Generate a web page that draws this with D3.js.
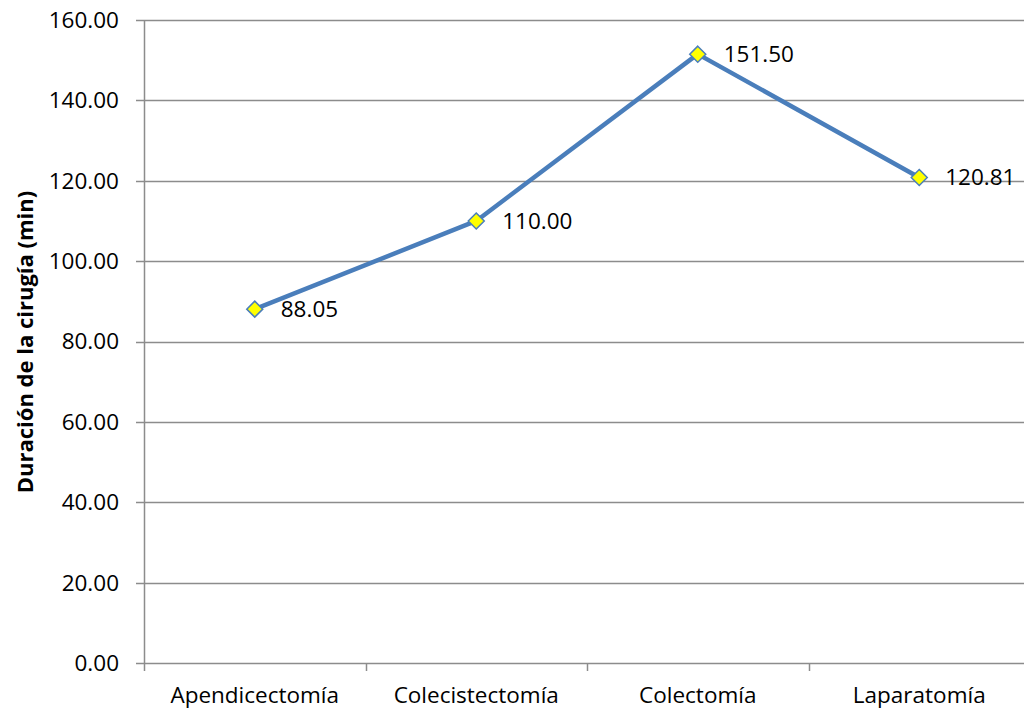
<!DOCTYPE html>
<html>
<head>
<meta charset="utf-8">
<script src="https://cdn.jsdelivr.net/npm/d3@7"></script>
<style>
  html, body { margin: 0; padding: 0; background: #fff; }
  svg { display: block; font-family: "Open Sans", "Liberation Sans", sans-serif; }
</style>
</head>
<body>
<svg id="chart" width="1024" height="713"></svg>
<script>
// Mean surgery duration by procedure
const categories = ["Apendicectomía", "Colecistectomía", "Colectomía", "Laparatomía"];
const durations = [88.05, 110.00, 151.50, 120.81];
const yTicks = [0, 20, 40, 60, 80, 100, 120, 140, 160];
const yTitle = "Duración de la cirugía (min)";

const svg = d3.select("#chart");
const plot = { left: 144, right: 1030, top: 20, bottom: 663 };
const fontSize = 22.5;

const x = d3.scaleBand().domain(categories).range([plot.left, plot.right]).padding(0);
const y = d3.scaleLinear().domain([0, 160]).range([plot.bottom, plot.top]);

const gridColor = "#8c8c8c";

// Horizontal gridlines with short left ticks
svg.append("g")
  .selectAll("line")
  .data(yTicks)
  .join("line")
  .attr("x1", plot.left - 8)
  .attr("x2", plot.right)
  .attr("y1", d => Math.round(y(d)) + 0.5)
  .attr("y2", d => Math.round(y(d)) + 0.5)
  .attr("stroke", gridColor)
  .attr("stroke-width", 1.5);

// Y axis line
svg.append("line")
  .attr("x1", plot.left + 0.5).attr("x2", plot.left + 0.5)
  .attr("y1", plot.top).attr("y2", plot.bottom + 8)
  .attr("stroke", gridColor).attr("stroke-width", 1.5);

// Category boundary ticks
const boundaries = categories.slice(1).map(c => x(c));
svg.append("g")
  .selectAll("line")
  .data(boundaries)
  .join("line")
  .attr("x1", d => Math.round(d) + 0.5)
  .attr("x2", d => Math.round(d) + 0.5)
  .attr("y1", plot.bottom)
  .attr("y2", plot.bottom + 8)
  .attr("stroke", gridColor)
  .attr("stroke-width", 1.5);

// Y tick labels
svg.append("g")
  .selectAll("text")
  .data(yTicks)
  .join("text")
  .attr("x", 119)
  .attr("y", d => y(d))
  .attr("dy", "0.35em")
  .attr("text-anchor", "end")
  .attr("font-size", fontSize)
  .attr("fill", "#000")
  .text(d => d3.format(".2f")(d));

// X category labels
svg.append("g")
  .selectAll("text")
  .data(categories)
  .join("text")
  .attr("x", d => x(d) + x.bandwidth() / 2)
  .attr("y", 703)
  .attr("text-anchor", "middle")
  .attr("font-size", fontSize)
  .attr("fill", "#000")
  .text(d => d);

// Y axis title
svg.append("text")
  .attr("transform", "translate(33,342) rotate(-90)")
  .attr("text-anchor", "middle")
  .attr("font-size", 22)
  .attr("font-weight", "bold")
  .attr("fill", "#000")
  .text(yTitle);

const pts = categories.map((c, i) => ({ c, v: durations[i] }));
const cx = d => x(d.c) + x.bandwidth() / 2;

// Series line
svg.append("path")
  .datum(pts)
  .attr("fill", "none")
  .attr("stroke", "#4a7ebb")
  .attr("stroke-width", 4.5)
  .attr("stroke-linejoin", "round")
  .attr("d", d3.line().x(cx).y(d => y(d.v)));

// Diamond markers
svg.append("g")
  .selectAll("path")
  .data(pts)
  .join("path")
  .attr("transform", d => `translate(${cx(d)},${y(d.v)})`)
  .attr("d", "M0,-8L8,0L0,8L-8,0Z")
  .attr("fill", "#ffff00")
  .attr("stroke", "#4a7ebb")
  .attr("stroke-width", 1.5);

// Value labels
svg.append("g")
  .selectAll("text")
  .data(pts)
  .join("text")
  .attr("x", d => cx(d) + 26)
  .attr("y", d => y(d.v) + 8)
  .attr("font-size", fontSize)
  .attr("fill", "#000")
  .text(d => d3.format(".2f")(d.v));
</script>
</body>
</html>
